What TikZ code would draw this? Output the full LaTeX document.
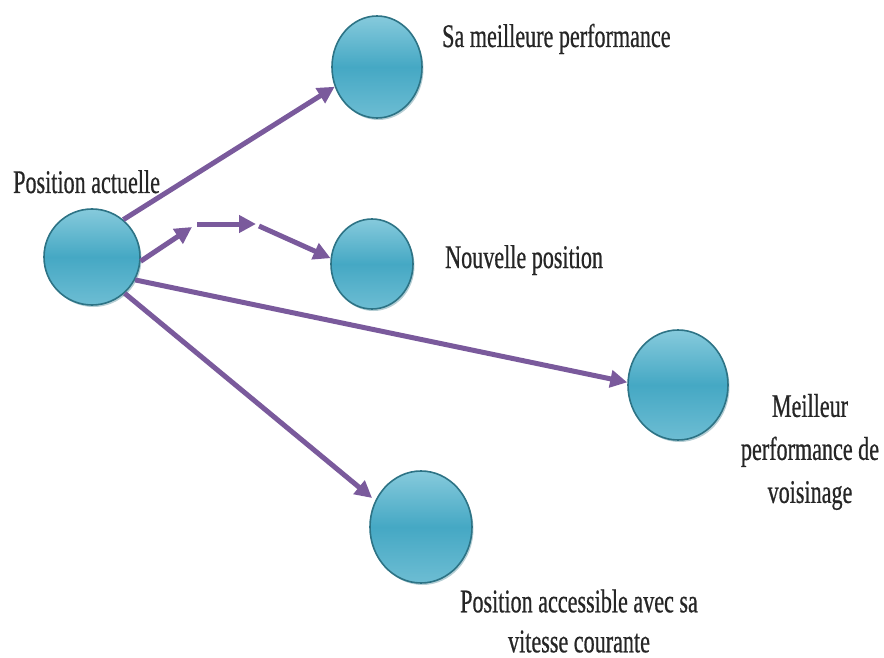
\documentclass[tikz,border=0pt]{standalone}
\usepackage{fontspec}
\setmainfont{Liberation Serif}[FakeStretch=0.67, FakeBold=0.6]
\usetikzlibrary{arrows.meta,shapes.geometric,shadows}
\definecolor{ballmid}{HTML}{45A8C4}
\definecolor{balltop}{HTML}{86CADC}
\definecolor{ballbot}{HTML}{6DBDD3}
\definecolor{ballrim}{HTML}{2D7385}
\definecolor{arrowpurple}{HTML}{7A5A9C}
\definecolor{labeltext}{HTML}{262626}
\tikzset{
  ball/.style={ellipse, draw=ballrim, line width=1.6pt,
    top color=balltop, bottom color=ballbot, middle color=ballmid,
    drop shadow={shadow xshift=1.5pt, shadow yshift=-2pt, opacity=0.35, fill=ballrim}},
  flow/.style={draw=arrowpurple, line width=5pt,
    -{Triangle[length=17pt,width=17pt]}},
  caption/.style={text=labeltext, font=\fontsize{33}{41}\selectfont, align=center, inner sep=0pt}
}
\begin{document}
\begin{tikzpicture}[x=1pt,y=-1pt]
  \useasboundingbox (0,0) rectangle (884,658);
  % positions
  \node[ball, minimum width=96pt, minimum height=96pt] (cur) at (92,257) {};
  \node[ball, minimum width=90pt, minimum height=102pt] (best) at (377,67) {};
  \node[ball, minimum width=82pt, minimum height=90pt] (new) at (372,264) {};
  \node[ball, minimum width=100pt, minimum height=110pt] (nbr) at (678,385) {};
  \node[ball, minimum width=102pt, minimum height=112pt] (reach) at (421,527) {};
  % intermediate points of the velocity chain
  \coordinate (v1) at (192,227);
  \coordinate (v2) at (197,224);
  \coordinate (v3) at (256,224);
  \coordinate (v4) at (259,226);
  % connectors
  \draw[flow] (cur.50) -- (best.205);
  \draw[flow] (cur.-5) -- (v1);
  \draw[flow] (v2) -- (v3);
  \draw[flow] (v4) -- (new.172);
  \draw[flow] (cur.-28) -- (nbr.177);
  \draw[flow, shorten >=4pt] (cur.-48) -- (reach.150);
  % labels
  \node[caption, anchor=base west] (tcur) at (13,193) {Position actuelle};
  \node[caption, anchor=base west] (tbest) at (442,47) {Sa meilleure performance};
  \node[caption, anchor=base west] (tnew) at (445,268) {Nouvelle position};
  \node[caption, font=\fontsize{33}{43}\selectfont] (tnbr) at (810,452) {Meilleur\\performance de\\voisinage};
  \node[caption, font=\fontsize{33}{40}\selectfont] (treach) at (579,621) {Position accessible avec sa\\vitesse courante};
\end{tikzpicture}
\end{document}
